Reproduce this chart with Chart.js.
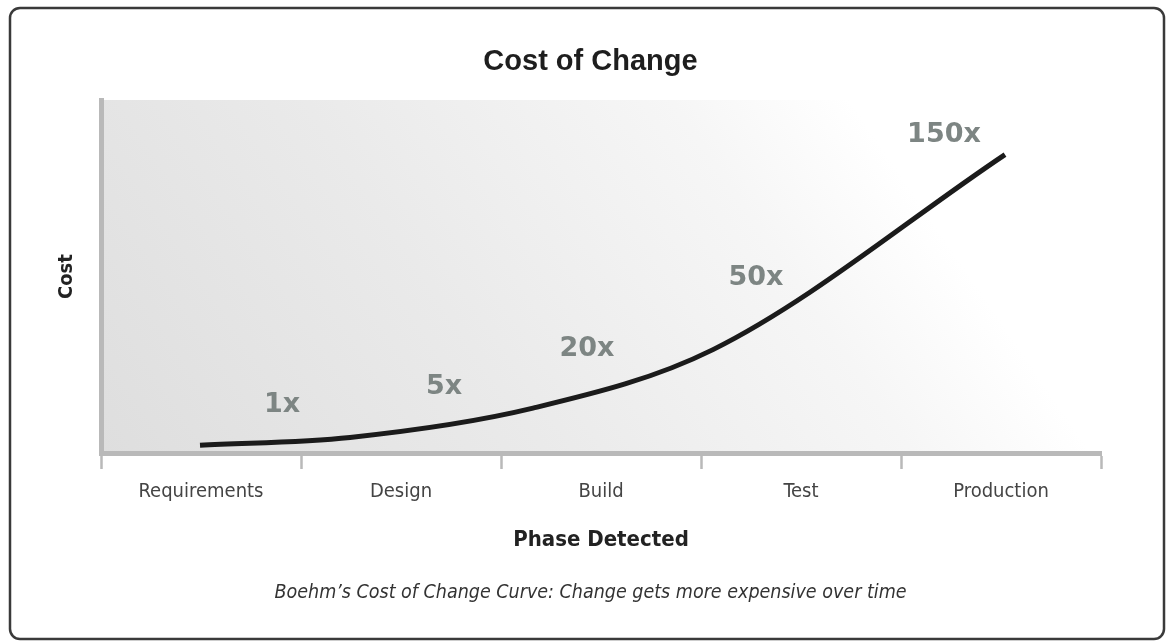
<!DOCTYPE html>
<html>
<head>
<meta charset="utf-8">
<title>Cost of Change</title>
<script src="https://cdn.jsdelivr.net/npm/chart.js@4/dist/chart.umd.min.js"></script>
<style>
  html, body { margin: 0; padding: 0; background: #fff; }
  #wrap { position: relative; width: 1166px; height: 641px; }
</style>
</head>
<body>
<div id="wrap"><canvas id="cost-of-change"></canvas></div>
<script>
const phases = ['Requirements', 'Design', 'Build', 'Test', 'Production'];
const costMultiplier = [1, 5, 20, 50, 150];
// where along the timeline (in phase units, 0..5) each multiplier sits
const curvePhase = [0.495, 1.245, 2.16, 3.06, 4.52];

const GREY_AXIS = '#b9b9b9';
const LABEL_FONT = "'Liberation Sans Narrow', 'DejaVu Sans Condensed', Roboto, sans-serif";

// text offsets (px) of each "Nx" label from its point on the curve
const labelOffsets = [[82, -40], [94, -50], [54, -59], [43, -72], [-61, -20]];

const frame = {
  id: 'frame',
  beforeDraw(chart) {
    const ctx = chart.ctx;
    const a = chart.chartArea;
    ctx.save();
    // rounded outline around the whole figure
    ctx.strokeStyle = '#3a3a3a';
    ctx.lineWidth = 2.5;
    ctx.beginPath();
    ctx.roundRect(10, 8, 1154, 631, 10);
    ctx.stroke();
    // shaded plot background, grey bottom-left to white top-right
    const g = ctx.createLinearGradient(a.left, a.bottom, a.left + 674, a.bottom - 462);
    g.addColorStop(0, '#dedede');
    g.addColorStop(0.45, '#eaeaea');
    g.addColorStop(0.82, '#f6f6f6');
    g.addColorStop(1, '#ffffff');
    ctx.fillStyle = g;
    ctx.fillRect(a.left, a.top, a.right - a.left, a.bottom - a.top);
    ctx.restore();
  }
};

const multiplierLabels = {
  id: 'multiplierLabels',
  afterDatasetsDraw(chart) {
    const ctx = chart.ctx;
    const meta = chart.getDatasetMeta(0);
    ctx.save();
    ctx.font = "bold 27px 'DejaVu Sans', sans-serif";
    ctx.fillStyle = '#7d8583';
    ctx.textAlign = 'center';
    ctx.textBaseline = 'middle';
    meta.data.forEach((pt, i) => {
      const [dx, dy] = labelOffsets[i];
      ctx.fillText(costMultiplier[i] + 'x', pt.x + dx, pt.y + dy);
    });
    ctx.restore();
  }
};

new Chart(document.getElementById('cost-of-change'), {
  type: 'line',
  data: {
    datasets: [{
      label: 'Cost',
      data: costMultiplier.map((v, i) => ({ x: curvePhase[i], y: v })),
      borderColor: '#1b1b1b',
      borderWidth: 5,
      borderCapStyle: 'butt',
      pointRadius: 0,
      cubicInterpolationMode: 'monotone',
      fill: false
    }]
  },
  options: {
    responsive: true,
    maintainAspectRatio: false,
    animation: false,
    layout: { padding: { left: 80, right: 65, top: 10, bottom: 10 } },
    plugins: {
      legend: { display: false },
      tooltip: { enabled: false },
      title: {
        display: true,
        text: 'Cost of Change',
        color: '#1e1e1e',
        font: { family: "'Liberation Sans', Arial, sans-serif", size: 29, weight: 'bold' },
        padding: { top: 34.6, bottom: 20.6 }
      },
      subtitle: {
        display: true,
        position: 'bottom',
        text: 'Boehm\u2019s Cost of Change Curve: Change gets more expensive over time',
        color: '#333',
        font: { family: LABEL_FONT, size: 19.5, style: 'italic' },
        padding: { top: 26.1, bottom: 26.3 }
      }
    },
    scales: {
      x: {
        type: 'linear',
        min: 0,
        max: 5,
        afterBuildTicks(axis) {
          const t = [];
          for (let v = 0; v <= 10; v++) t.push({ value: v / 2 });
          axis.ticks = t;
        },
        ticks: {
          autoSkip: false,
          maxRotation: 0,
          padding: 11,
          color: '#444',
          font: { family: LABEL_FONT, size: 20 },
          callback: (v) => Number.isInteger(v) ? '' : phases[Math.floor(v)]
        },
        grid: {
          drawOnChartArea: false,
          drawTicks: true,
          tickLength: 16,
          tickWidth: 2.5,
          tickColor: (c) => Number.isInteger(c.tick.value) ? GREY_AXIS : 'rgba(0,0,0,0)'
        },
        border: { display: true, color: GREY_AXIS, width: 5 },
        title: {
          display: true,
          text: 'Phase Detected',
          color: '#222',
          font: { family: LABEL_FONT, size: 22, weight: 'bold' },
          padding: { top: 11.8, bottom: 2 }
        }
      },
      y: {
        type: 'linear',
        min: -3,
        max: 178,
        ticks: { display: false },
        grid: { display: false, drawTicks: false },
        border: { display: true, color: GREY_AXIS, width: 5 },
        title: {
          display: true,
          text: 'Cost',
          color: '#222',
          font: { family: LABEL_FONT, size: 20, weight: 'bold' },
          // title sits out in the left margin, beyond the axis box
          padding: { top: -25, bottom: 22 }
        }
      }
    }
  },
  plugins: [frame, multiplierLabels]
});
</script>
</body>
</html>
